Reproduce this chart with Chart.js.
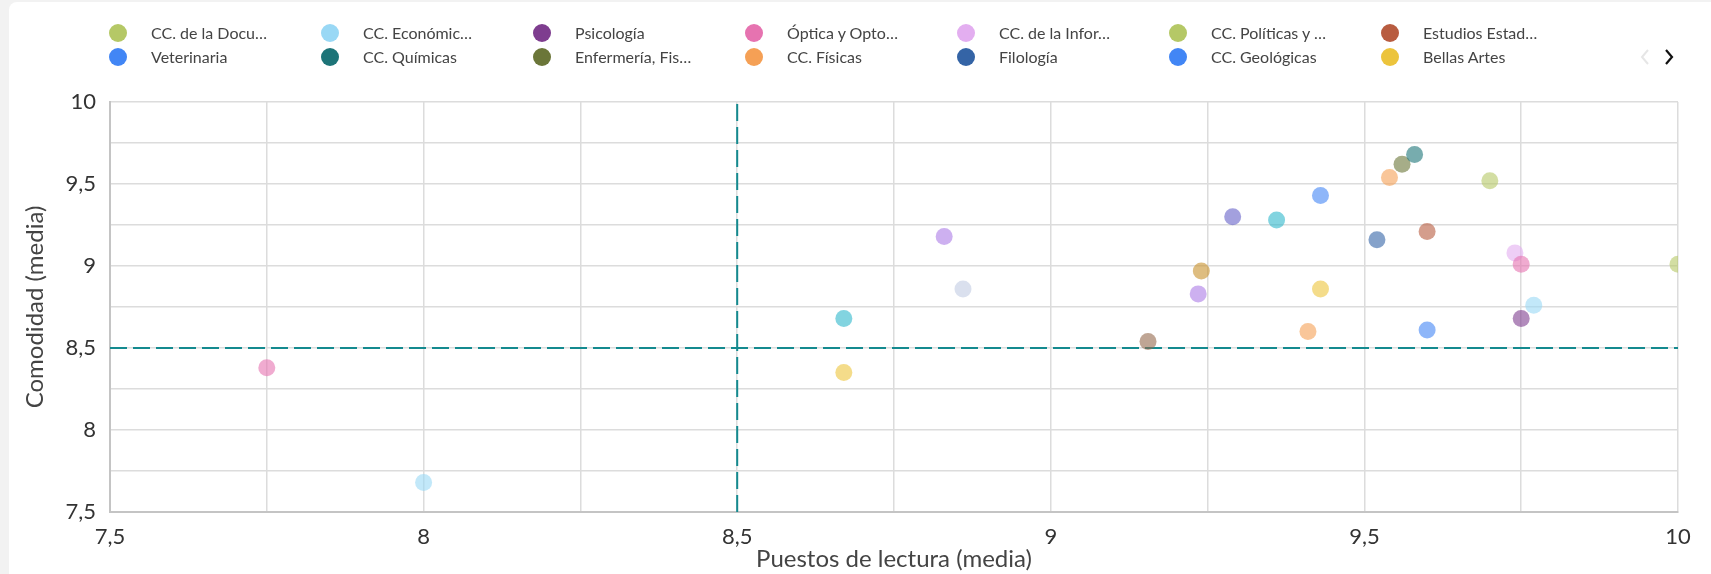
<!DOCTYPE html>
<html>
<head>
<meta charset="utf-8">
<script src="https://cdn.jsdelivr.net/npm/chart.js@4.4.1/dist/chart.umd.min.js"></script>
<style>
    html, body { margin: 0; padding: 0; width: 1711px; height: 574px; overflow: hidden; background: #f2f2f2; font-family: Lato, sans-serif; }
    #card { position: absolute; left: 9px; top: 2px; width: 1730px; height: 600px; background: #fff; border-radius: 8px; }
    #chart { position: absolute; left: 0; top: 0; }
    #legend { position: absolute; left: 0; top: 0; width: 1711px; height: 80px; }
    .item { position: absolute; height: 20px; line-height: 20px; font-size: 16px; color: #444; white-space: nowrap; }
    .dot { position: absolute; width: 18px; height: 18px; border-radius: 50%; left: -9px; top: 1px; }
    .txt { position: absolute; left: 33px; top: 0; }
    .arrow { position: absolute; top: 49px; }
</style>
</head>
<body>
<div id="card"></div>
<canvas id="chart" width="1711" height="574"></canvas>
<div id="legend"></div>
<svg class="arrow" style="left:1639px" width="12" height="16"><polyline points="9,1 3,8 9,15" fill="none" stroke="#e6e6e6" stroke-width="2"/></svg>
<svg class="arrow" style="left:1663px" width="12" height="16"><polyline points="3,1 9,8 3,15" fill="none" stroke="#111" stroke-width="2.2"/></svg>
<script>
// --- Data (one point per faculty) ---
// legend labels as shown (truncated by the original tool)
const facultades = [
    'CC. de la Docu…', 'CC. Económic…', 'Psicología', 'Óptica y Opto…',
    'CC. de la Infor…', 'CC. Políticas y …', 'Estudios Estad…',
    'Veterinaria', 'CC. Químicas', 'Enfermería, Fis…', 'CC. Físicas',
    'Filología', 'CC. Geológicas', 'Bellas Artes',
    // second legend page (not visible)
    'Medicina', 'Derecho', 'Farmacia', 'Odontología', 'Educación', 'Filosofía',
    'Geografía e Historia', 'CC. Biológicas', 'CC. Matemáticas', 'Comercio y Turismo',
    'Trabajo Social', 'Informática'
];
const puestosLectura = [
    9.70, 9.77, 9.75, 9.75, 9.74, 10.0, 9.60, 9.43, 9.58, 9.56, 9.54, 9.52, 9.60, 9.43,
    8.67, 8.83, 8.86, 9.155, 9.24, 9.235, 9.29, 9.36, 8.0, 7.75, 9.41, 8.67
];
const comodidad = [
    9.52, 8.76, 8.68, 9.01, 9.08, 9.01, 9.21, 9.43, 9.68, 9.62, 9.54, 9.16, 8.61, 8.86,
    8.68, 9.18, 8.86, 8.54, 8.97, 8.83, 9.30, 9.28, 7.68, 8.38, 8.60, 8.35
];
const colores = [
    '#b5c866', '#99d8f5', '#7e3d8f', '#e673b0', '#e3aef0', '#b5c866', '#b85c40',
    '#4286f5', '#1d7478', '#6b7639', '#f5a055', '#3464a6', '#4286f5', '#ecc43c',
    '#2fb7cb', '#ac7be6', '#c1cbe3', '#94694d', '#c8912b', '#ac7be6', '#6661c8',
    '#2fb7cb', '#99d8f5', '#e673b0', '#f5a055', '#ecc43c'
];
const mediaPuestos = 8.5;
const mediaComodidad = 8.5;
const ejeMin = 7.5, ejeMax = 10, paso = 0.25;
const legendPage = 14;

const alpha = (hex, a) => {
    const n = parseInt(hex.slice(1), 16);
    return `rgba(${n >> 16}, ${(n >> 8) & 255}, ${n & 255}, ${a})`;
};
const fmt = v => (Math.round(v * 100) % 50 === 0) ? String(v).replace('.', ',') : '';

// --- HTML legend, first page only ---
const legend = document.getElementById('legend');
facultades.slice(0, legendPage).forEach((name, i) => {
    const item = document.createElement('div');
    item.className = 'item';
    item.style.left = (118 + (i % 7) * 212) + 'px';
    item.style.top = (23 + Math.floor(i / 7) * 24) + 'px';
    item.innerHTML = `<span class="dot" style="background:${colores[i]}"></span><span class="txt">${name}</span>`;
    legend.appendChild(item);
});

const teal = '#148a8f';
const datasets = facultades.map((name, i) => ({
    label: name,
    data: [{ x: puestosLectura[i], y: comodidad[i] }],
    backgroundColor: alpha(colores[i], 0.6),
    borderWidth: 0,
    pointRadius: 8.5,
    pointHoverRadius: 8.5,
    order: 1
}));
datasets.push({
    type: 'line', label: 'media puestos',
    data: [{ x: mediaPuestos, y: ejeMin }, { x: mediaPuestos, y: ejeMax }],
    borderColor: teal, borderWidth: 2, borderDash: [17, 6], pointRadius: 0, order: 2
});
datasets.push({
    type: 'line', label: 'media comodidad',
    data: [{ x: ejeMin, y: mediaComodidad }, { x: ejeMax, y: mediaComodidad }],
    borderColor: teal, borderWidth: 2, borderDash: [17, 6], pointRadius: 0, order: 2
});

const tickFont = { family: 'Lato', size: 22 };
const titleFont = { family: 'Lato', size: 24 };

new Chart(document.getElementById('chart').getContext('2d'), {
    type: 'scatter',
    data: { datasets },
    options: {
        responsive: false,
        animation: false,
        layout: { padding: { left: 9, top: 102, right: 33, bottom: 0 } },
        plugins: { legend: { display: false }, tooltip: { enabled: false } },
        scales: {
            x: {
                type: 'linear', min: ejeMin, max: ejeMax,
                afterFit: s => { s.height = 62; },
                ticks: { stepSize: paso, autoSkip: false, maxRotation: 0, padding: 12, color: '#333', font: tickFont, callback: fmt },
                grid: { color: '#dcdcdc', lineWidth: 1.5, drawTicks: false },
                border: { color: '#c4c4c4', width: 2 },
                title: { display: true, text: 'Puestos de lectura (media)', color: '#444', font: titleFont, padding: { top: 0, bottom: 0 } }
            },
            y: {
                type: 'linear', min: ejeMin, max: ejeMax,
                afterFit: s => { s.width = 101; },
                ticks: { stepSize: paso, autoSkip: false, padding: 14, color: '#333', font: tickFont, callback: fmt },
                grid: { color: '#dcdcdc', lineWidth: 1.5, drawTicks: false },
                border: { color: '#c4c4c4', width: 2 },
                title: { display: true, text: 'Comodidad (media)', color: '#444', font: titleFont, padding: { top: 12, bottom: 0 } }
            }
        }
    }
});
</script>
</body>
</html>
